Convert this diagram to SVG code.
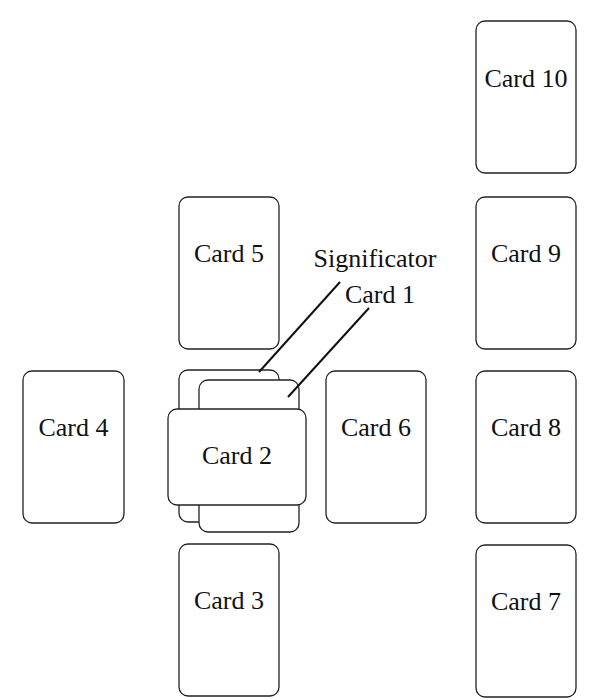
<svg xmlns="http://www.w3.org/2000/svg" width="600" height="700" viewBox="0 0 600 700">
<style>
.card{fill:#fff;stroke:#222;stroke-width:1.3}
text{font-family:'Liberation Serif','Times New Roman','DejaVu Serif',serif;font-size:26px;fill:#111;text-anchor:middle}
.ln{stroke:#111;stroke-width:2;fill:none}
</style>
<rect width="600" height="700" fill="#fff"/>
<g id="card10"><rect class="card" x="476" y="21" width="100" height="152" rx="9"/><text x="526" y="87">Card 10</text></g>
<g id="card9"><rect class="card" x="476" y="197" width="100" height="152" rx="9"/><text x="526" y="262">Card 9</text></g>
<g id="card8"><rect class="card" x="476" y="371" width="100" height="152" rx="9"/><text x="526" y="436">Card 8</text></g>
<g id="card7"><rect class="card" x="476" y="545" width="100" height="152" rx="9"/><text x="526" y="610">Card 7</text></g>
<g id="card4"><rect class="card" x="23" y="371" width="101" height="152" rx="9"/><text x="73.5" y="436">Card 4</text></g>
<g id="card5"><rect class="card" x="179" y="197" width="100" height="152" rx="9"/><text x="229" y="262">Card 5</text></g>
<g id="card3"><rect class="card" x="179" y="544" width="100" height="152" rx="9"/><text x="229" y="609">Card 3</text></g>
<g id="card6"><rect class="card" x="326" y="371" width="100" height="152" rx="9"/><text x="376" y="436">Card 6</text></g>
<g id="significator"><rect class="card" x="179" y="370" width="100" height="152" rx="9"/><text x="375" y="267">Significator</text></g>
<g id="card1"><rect class="card" x="199" y="380" width="100" height="152" rx="9"/><text x="380" y="303">Card 1</text></g>
<g id="card2"><rect class="card" x="168" y="409" width="138" height="96" rx="9"/><text x="237" y="464">Card 2</text></g>
<g id="connectors">
<line class="ln" x1="259" y1="372" x2="340" y2="282"/>
<line class="ln" x1="288" y1="397" x2="369" y2="308"/>
</g>
</svg>
